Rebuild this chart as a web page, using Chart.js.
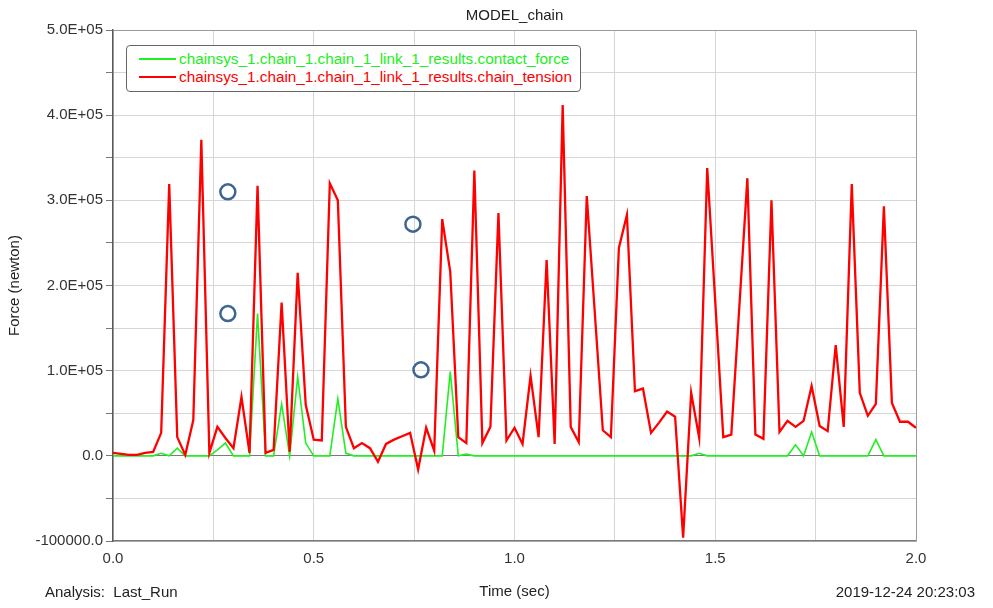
<!DOCTYPE html>
<html>
<head>
<meta charset="utf-8">
<script src="https://cdn.jsdelivr.net/npm/chart.js@4.4.1/dist/chart.umd.min.js"></script>
<style>
  body { margin: 0; background: #fff; font-family: "Liberation Sans", Arial, sans-serif; color: #222; }
  #wrap { position: relative; width: 993px; height: 608px; }
  #titulo { position: absolute; left: 113px; width: 803px; top: 6px; text-align: center; font-size: 15px; line-height: 18px; }
  #legenda { position: absolute; left: 126px; top: 45px; width: 453px; padding: 4px 0 5px 0; border: 1px solid #666; border-radius: 4px; background: #fff; font-size: 15.3px; line-height: 18px; }
  #legenda .item { white-space: nowrap; padding-left: 12px; }
  #legenda .traco { display: inline-block; width: 37px; height: 2px; vertical-align: middle; margin-right: 3px; position: relative; top: -1px; }
  .rodape { position: absolute; top: 583px; font-size: 15px; line-height: 18px; }
</style>
</head>
<body>
<div id="wrap">
  <canvas id="grafico"></canvas>
  <div id="titulo">MODEL_chain</div>
  <div id="legenda"></div>
  <div class="rodape" style="left:45px">Analysis:&nbsp; Last_Run</div>
  <div class="rodape" style="right:18px">2019-12-24 20:23:03</div>
</div>
<script>
// tempo (s) - passo de 0.02
const tempo = [
  0.00, 0.02, 0.04, 0.06, 0.08, 0.10, 0.12, 0.14, 0.16, 0.18,
  0.20, 0.22, 0.24, 0.26, 0.28, 0.30, 0.32, 0.34, 0.36, 0.38,
  0.40, 0.42, 0.44, 0.46, 0.48, 0.50, 0.52, 0.54, 0.56, 0.58,
  0.60, 0.62, 0.64, 0.66, 0.68, 0.70, 0.72, 0.74, 0.76, 0.78,
  0.80, 0.82, 0.84, 0.86, 0.88, 0.90, 0.92, 0.94, 0.96, 0.98,
  1.00, 1.02, 1.04, 1.06, 1.08, 1.10, 1.12, 1.14, 1.16, 1.18,
  1.20, 1.22, 1.24, 1.26, 1.28, 1.30, 1.32, 1.34, 1.36, 1.38,
  1.40, 1.42, 1.44, 1.46, 1.48, 1.50, 1.52, 1.54, 1.56, 1.58,
  1.60, 1.62, 1.64, 1.66, 1.68, 1.70, 1.72, 1.74, 1.76, 1.78,
  1.80, 1.82, 1.84, 1.86, 1.88, 1.90, 1.92, 1.94, 1.96, 1.98,
  2.00
];

// chain_tension (N)
const tracao = [
  3500, 2300, 1200, 1200, 3500, 4700, 27000, 319000, 22000, 1000,
  42000, 371000, 3500, 34000, 21000, 9000, 69000, 3500, 317000, 3500,
  7000, 180000, 5000, 215000, 60000, 19000, 18000, 320000, 300000, 34000,
  9000, 15000, 9000, -7000, 14000, 19000, 23000, 27000, -16000, 33000,
  6000, 278000, 216000, 22000, 15000, 335000, 15000, 34000, 285000, 18000,
  33000, 14000, 94000, 22000, 230000, 14000, 412000, 34000, 16000, 305000,
  168000, 30000, 22000, 244000, 283000, 76000, 79000, 27000, 39000, 52000,
  46000, -96000, 74000, 21000, 338000, 181000, 22000, 25000, 175000, 326000,
  25000, 20000, 300000, 28000, 41000, 34000, 41000, 82000, 35000, 29000,
  130000, 34000, 319000, 74000, 47000, 61000, 293000, 62000, 40000, 40000,
  33000
];

// contact_force (N)
const contato = [
  0, 0, 0, 0, 0, 0, 3000, 0, 9000, 0,
  0, 0, 0, 7000, 15000, 0, 0, 0, 167000, 0,
  0, 61000, 0, 93000, 15000, 0, 0, 0, 67000, 3000,
  0, 0, 0, 0, 0, 0, 0, 0, 0, 0,
  0, 0, 99000, 0, 2000, 0, 0, 0, 0, 0,
  0, 0, 0, 0, 0, 0, 0, 0, 0, 0,
  0, 0, 0, 0, 0, 0, 0, 0, 0, 0,
  0, 0, 0, 3000, 0, 0, 0, 0, 0, 0,
  0, 0, 0, 0, 0, 13000, 0, 28000, 0, 0,
  0, 0, 0, 0, 0, 19000, 0, 0, 0, 0,
  0
];

// marcadores (circulos azuis)
const marcaX = [0.286, 0.286, 0.747, 0.767];
const marcaY = [310000, 167000, 272000, 101000];

const nomes = [
  "chainsys_1.chain_1.chain_1_link_1_results.contact_force",
  "chainsys_1.chain_1.chain_1_link_1_results.chain_tension"
];

function pontos(xs, ys) {
  return xs.map(function (x, i) { return { x: x, y: ys[i] }; });
}

function formataY(v) {
  if (v === 0) return "0.0";
  if (v < 0) return v.toFixed(1);
  var e = Math.floor(Math.log10(v));
  var m = v / Math.pow(10, e);
  return m.toFixed(1) + "E+" + (e < 10 ? "0" + e : e);
}

// moldura em cima e a direita
const moldura = {
  id: "moldura",
  beforeDatasetsDraw: function (chart) {
    var a = chart.chartArea, ctx = chart.ctx;
    ctx.save();
    ctx.strokeStyle = "#9a9a9a";
    ctx.lineWidth = 1;
    ctx.beginPath();
    ctx.moveTo(a.left, a.top + 0.5);
    ctx.lineTo(a.right + 0.5, a.top + 0.5);
    ctx.lineTo(a.right + 0.5, a.bottom);
    ctx.stroke();
    ctx.restore();
  }
};

const fonte = { family: "'Liberation Sans', Arial, sans-serif", size: 15 };

const ctx = document.getElementById("grafico");
const myChart = new Chart(ctx, {
  type: "line",
  data: {
    datasets: [
      {
        label: nomes[0],
        data: pontos(tempo, contato),
        borderColor: "#22ee22",
        borderWidth: 1.6,
        pointRadius: 0,
        tension: 0,
        order: 2
      },
      {
        label: nomes[1],
        data: pontos(tempo, tracao),
        borderColor: "#ff0000",
        borderWidth: 2.3,
        pointRadius: 0,
        tension: 0,
        order: 1
      },
      {
        type: "scatter",
        label: "",
        data: pontos(marcaX, marcaY),
        showLine: false,
        pointRadius: 7.5,
        pointBorderWidth: 2.5,
        borderColor: "#3c6592",
        backgroundColor: "rgba(0,0,0,0)",
        order: 0
      }
    ]
  },
  options: {
    responsive: true,
    maintainAspectRatio: false,
    animation: false,
    layout: { padding: { top: 30, right: 77, left: 0, bottom: 0 } },
    plugins: {
      legend: { display: false },
      tooltip: { enabled: false },
      title: { display: false }
    },
    scales: {
      x: {
        type: "linear",
        min: 0,
        max: 2,
        border: { color: "#7a7a7a", width: 1.5 },
        grid: {
          color: "#d6d6d6",
          drawTicks: false
        },
        ticks: {
          stepSize: 0.25,
          autoSkip: false,
          maxRotation: 0,
          padding: 9,
          color: "#333",
          font: fonte,
          callback: function (v) {
            return (Math.abs(v * 2 - Math.round(v * 2)) < 1e-9) ? v.toFixed(1) : "";
          }
        },
        title: {
          display: true,
          text: "Time (sec)",
          color: "#222",
          font: fonte,
          padding: { top: 0, bottom: 7 }
        },
        afterFit: function (scale) { scale.height = 67; }
      },
      y: {
        min: -100000,
        max: 500000,
        border: { color: "#5a5a5a", width: 1.5 },
        grid: {
          color: function (c) { return c.tick && c.tick.value === 0 ? "#7a7a7a" : "#d6d6d6"; },
          tickLength: 7,
          tickColor: "#777"
        },
        ticks: {
          stepSize: 50000,
          maxTicksLimit: 20,
          autoSkip: false,
          padding: 3,
          color: "#333",
          font: fonte,
          callback: function (v) {
            return v % 100000 === 0 ? formataY(v) : "";
          }
        },
        title: {
          display: true,
          text: "Force (newton)",
          color: "#222",
          font: fonte,
          padding: { top: 6, bottom: 0 }
        },
        afterFit: function (scale) { scale.width = 113; }
      }
    }
  },
  plugins: [moldura]
});

// legenda em html
var leg = document.getElementById("legenda");
myChart.data.datasets.forEach(function (ds) {
  if (!ds.label) return;
  var linha = document.createElement("div");
  linha.className = "item";
  linha.style.color = ds.borderColor;
  linha.innerHTML = '<span class="traco" style="background:' + ds.borderColor + '"></span>' + ds.label;
  leg.appendChild(linha);
});
</script>
</body>
</html>
